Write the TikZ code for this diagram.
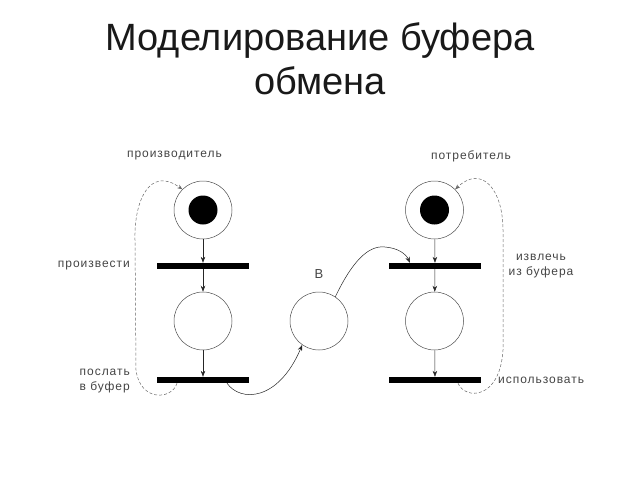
\documentclass[tikz,border=0pt]{standalone}
\usepackage{fontspec}
\setmainfont{Liberation Sans}
\newfontfamily\lbl[LetterSpace=8]{Liberation Sans}
\usetikzlibrary{arrows.meta}
\definecolor{lblc}{HTML}{444444}
\tikzset{
  place/.style={circle,draw=black!70,line width=0.5pt,minimum size=58pt,inner sep=0pt},
  token/.style={circle,fill=black,minimum size=29pt,inner sep=0pt},
  bar/.style={rectangle,fill=black,minimum width=92pt,minimum height=6pt,inner sep=0pt},
  arr/.style={draw=black!85,line width=0.5pt,-{Stealth[length=6pt,width=4.5pt]}},
  dsh/.style={draw=black!60,line width=0.5pt,dash pattern=on 3pt off 2pt,-{Stealth[length=5pt,width=4pt]}},
  lab/.style={font=\lbl\fontsize{12}{15}\selectfont,text=lblc,inner sep=0pt},
}
\begin{document}
\begin{tikzpicture}[x=1pt,y=-1pt]
\useasboundingbox (0,0) rectangle (640,480);
\node[font=\fontsize{38}{44}\selectfont,text=black!90,align=center,inner sep=0pt] (title) at (320,59) {Моделирование буфера\\обмена};
% left column
\node[place] (p1) at (203,210) {};
\node[token] (k1) at (p1) {};
\node[bar] (t1) at (203,266) {};
\node[place] (p2) at (203,321) {};
\node[bar] (t2) at (203,380) {};
% right column
\node[place] (p3) at (434.5,210) {};
\node[token] (k3) at (p3) {};
\node[bar] (t3) at (435,266) {};
\node[place] (p4) at (434.5,321) {};
\node[bar] (t4) at (435,380) {};
% buffer
\node[place] (B) at (319,321) {};
\node[lab,font=\fontsize{13}{15}\selectfont] (Bl) at (319,274) {B};
% arrows
\draw[arr] (p1) -- (t1);
\draw[arr] (t1) -- (p2);
\draw[arr] (p2) -- (t2);
\draw[arr] (p3) -- (t3);
\draw[arr] (t3) -- (p4);
\draw[arr] (p4) -- (t4);
\draw[arr] ([xshift=24pt]t2.south) .. controls (240,402) and (278,402) .. (B.235);
\draw[arr] (B.56) .. controls (352,262) and (368,245) .. (385,247) .. controls (398,248) and (406,254) .. ([xshift=-25pt]t3.north);
\draw[dsh] ([xshift=-26pt]t2.south) .. controls (172,400) and (140,402) .. (136,370) -- (135,240) .. controls (134,200) and (150,166) .. (p1.135);
\draw[dsh] ([xshift=23pt]t4.south) .. controls (465,400) and (500,400) .. (503,350) -- (503,230) .. controls (503,190) and (482,164) .. (p3.45);
% labels
\node[lab] (l1) at (174.5,156) {производитель};
\node[lab] (l2) at (471,156) {потребитель};
\node[lab,anchor=east] (l3) at (130,266) {произвести};
\node[lab,anchor=east,align=right] (l4) at (130,381) {послать\\в буфер};
\node[lab,align=center] (l5) at (541,266) {извлечь\\из буфера};
\node[lab,anchor=west] (l6) at (498,380) {использовать};
\end{tikzpicture}
\end{document}
